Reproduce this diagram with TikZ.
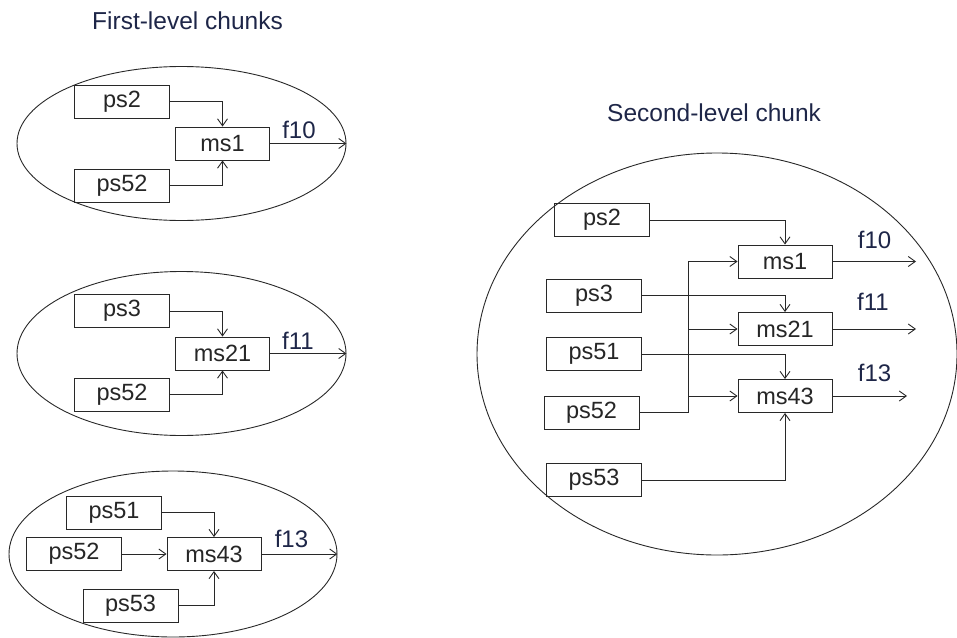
\documentclass[tikz,border=0pt]{standalone}
\usepackage{fontspec}
\setmainfont{Liberation Sans}
\usetikzlibrary{arrows.meta,shapes.geometric}
\definecolor{navy}{RGB}{30,38,72}
\definecolor{linec}{RGB}{40,40,40}
\tikzset{
  box/.style={draw=linec, line width=0.9pt, rectangle, inner sep=0pt, minimum height=33pt, font=\fontsize{23.5}{25}\selectfont, text=black!85},
  pbox/.style={box, minimum width=95pt},
  mbox/.style={box, minimum width=94pt},
  chunk/.style={draw=linec, line width=0.9pt, ellipse, inner sep=0pt},
  conn/.style={draw=linec, line width=0.9pt, -{Straight Barb[length=7pt,width=10pt]}},
  plain/.style={draw=linec, line width=0.9pt},
  flab/.style={font=\fontsize{24}{26}\selectfont, text=navy, inner sep=0pt},
  ttl/.style={font=\fontsize{24.5}{26}\selectfont, text=navy, inner sep=0pt, anchor=west}
}
\begin{document}
\begin{tikzpicture}[x=1pt,y=-1pt]
\useasboundingbox (0,0) rectangle (957,637);
% titles
\node[ttl] (t1) at (92,21) {First-level chunks};
\node[ttl] (t2) at (607,113) {Second-level chunk};
% group 1
\node[chunk, minimum width=329pt, minimum height=154pt] (e1) at (181.5,143.5) {};
\node[pbox] (ps2a) at (122,101.5) {ps2};
\node[mbox] (ms1a) at (222.5,143.5) {ms1};
\node[pbox] (ps52a) at (122,185.5) {ps52};
\node[flab] (f10a) at (299,129.5) {f10};
\draw[conn] (ps2a.east) -| (ms1a.north);
\draw[conn] (ps52a.east) -| (ms1a.south);
\draw[conn] (ms1a.east) -- (ms1a.east -| e1.east);
% group 2
\node[chunk, minimum width=329pt, minimum height=164pt] (e2) at (181.5,353.5) {};
\node[pbox] (ps3b) at (122,311) {ps3};
\node[mbox] (ms21b) at (222.5,353.5) {ms21};
\node[pbox] (ps52b) at (122,394.5) {ps52};
\node[flab] (f11b) at (298,340.5) {f11};
\draw[conn] (ps3b.east) -| (ms21b.north);
\draw[conn] (ps52b.east) -| (ms21b.south);
\draw[conn] (ms21b.east) -- (ms21b.east -| e2.east);
% group 3
\node[chunk, minimum width=328pt, minimum height=166pt] (e3) at (173,554) {};
\node[pbox] (ps51c) at (114,512.5) {ps51};
\node[pbox] (ps52c) at (74,554) {ps52};
\node[mbox] (ms43c) at (214,554) {ms43};
\node[pbox] (ps53c) at (130.5,605.5) {ps53};
\node[flab] (f13c) at (291.5,539) {f13};
\draw[conn] (ps51c.east) -| (ms43c.north);
\draw[conn] (ps52c.east) -- (ms43c.west);
\draw[conn] (ps53c.east) -| (ms43c.south);
\draw[conn] (ms43c.east) -- (ms43c.east -| e3.east);
% second-level chunk
\node[chunk, minimum width=480pt, minimum height=402pt] (e4) at (717,354) {};
\node[pbox] (ps2d) at (602,220) {ps2};
\node[mbox] (ms1d) at (785,261.5) {ms1};
\node[pbox] (ps3d) at (594,295.5) {ps3};
\node[mbox] (ms21d) at (785,329) {ms21};
\node[pbox] (ps51d) at (594,354) {ps51};
\node[mbox] (ms43d) at (785,396) {ms43};
\node[pbox] (ps52d) at (591.5,412.5) {ps52};
\node[pbox] (ps53d) at (594,480) {ps53};
\node[flab] (f10d) at (874.5,240) {f10};
\node[flab] (f11d) at (873,302) {f11};
\node[flab] (f13d) at (874.5,373) {f13};
\coordinate (bus) at (688,412.5);
\coordinate (o1) at (916,261.5);
\coordinate (o2) at (916,329);
\coordinate (o3) at (907,396);
\draw[conn] (ps2d.east) -| (ms1d.north);
\draw[conn] (ps3d.east) -| (ms21d.north);
\draw[conn] (ps51d.east) -| (ms43d.north);
\draw[conn] (ps53d.east) -| (ms43d.south);
\draw[plain] (ps52d.east) -- (bus) -- (bus |- ms1d.west);
\draw[conn] (bus |- ms1d.west) -- (ms1d.west);
\draw[conn] (bus |- ms21d.west) -- (ms21d.west);
\draw[conn] (bus |- ms43d.west) -- (ms43d.west);
\draw[conn] (ms1d.east) -- (o1);
\draw[conn] (ms21d.east) -- (o2);
\draw[conn] (ms43d.east) -- (o3);
\end{tikzpicture}
\end{document}
